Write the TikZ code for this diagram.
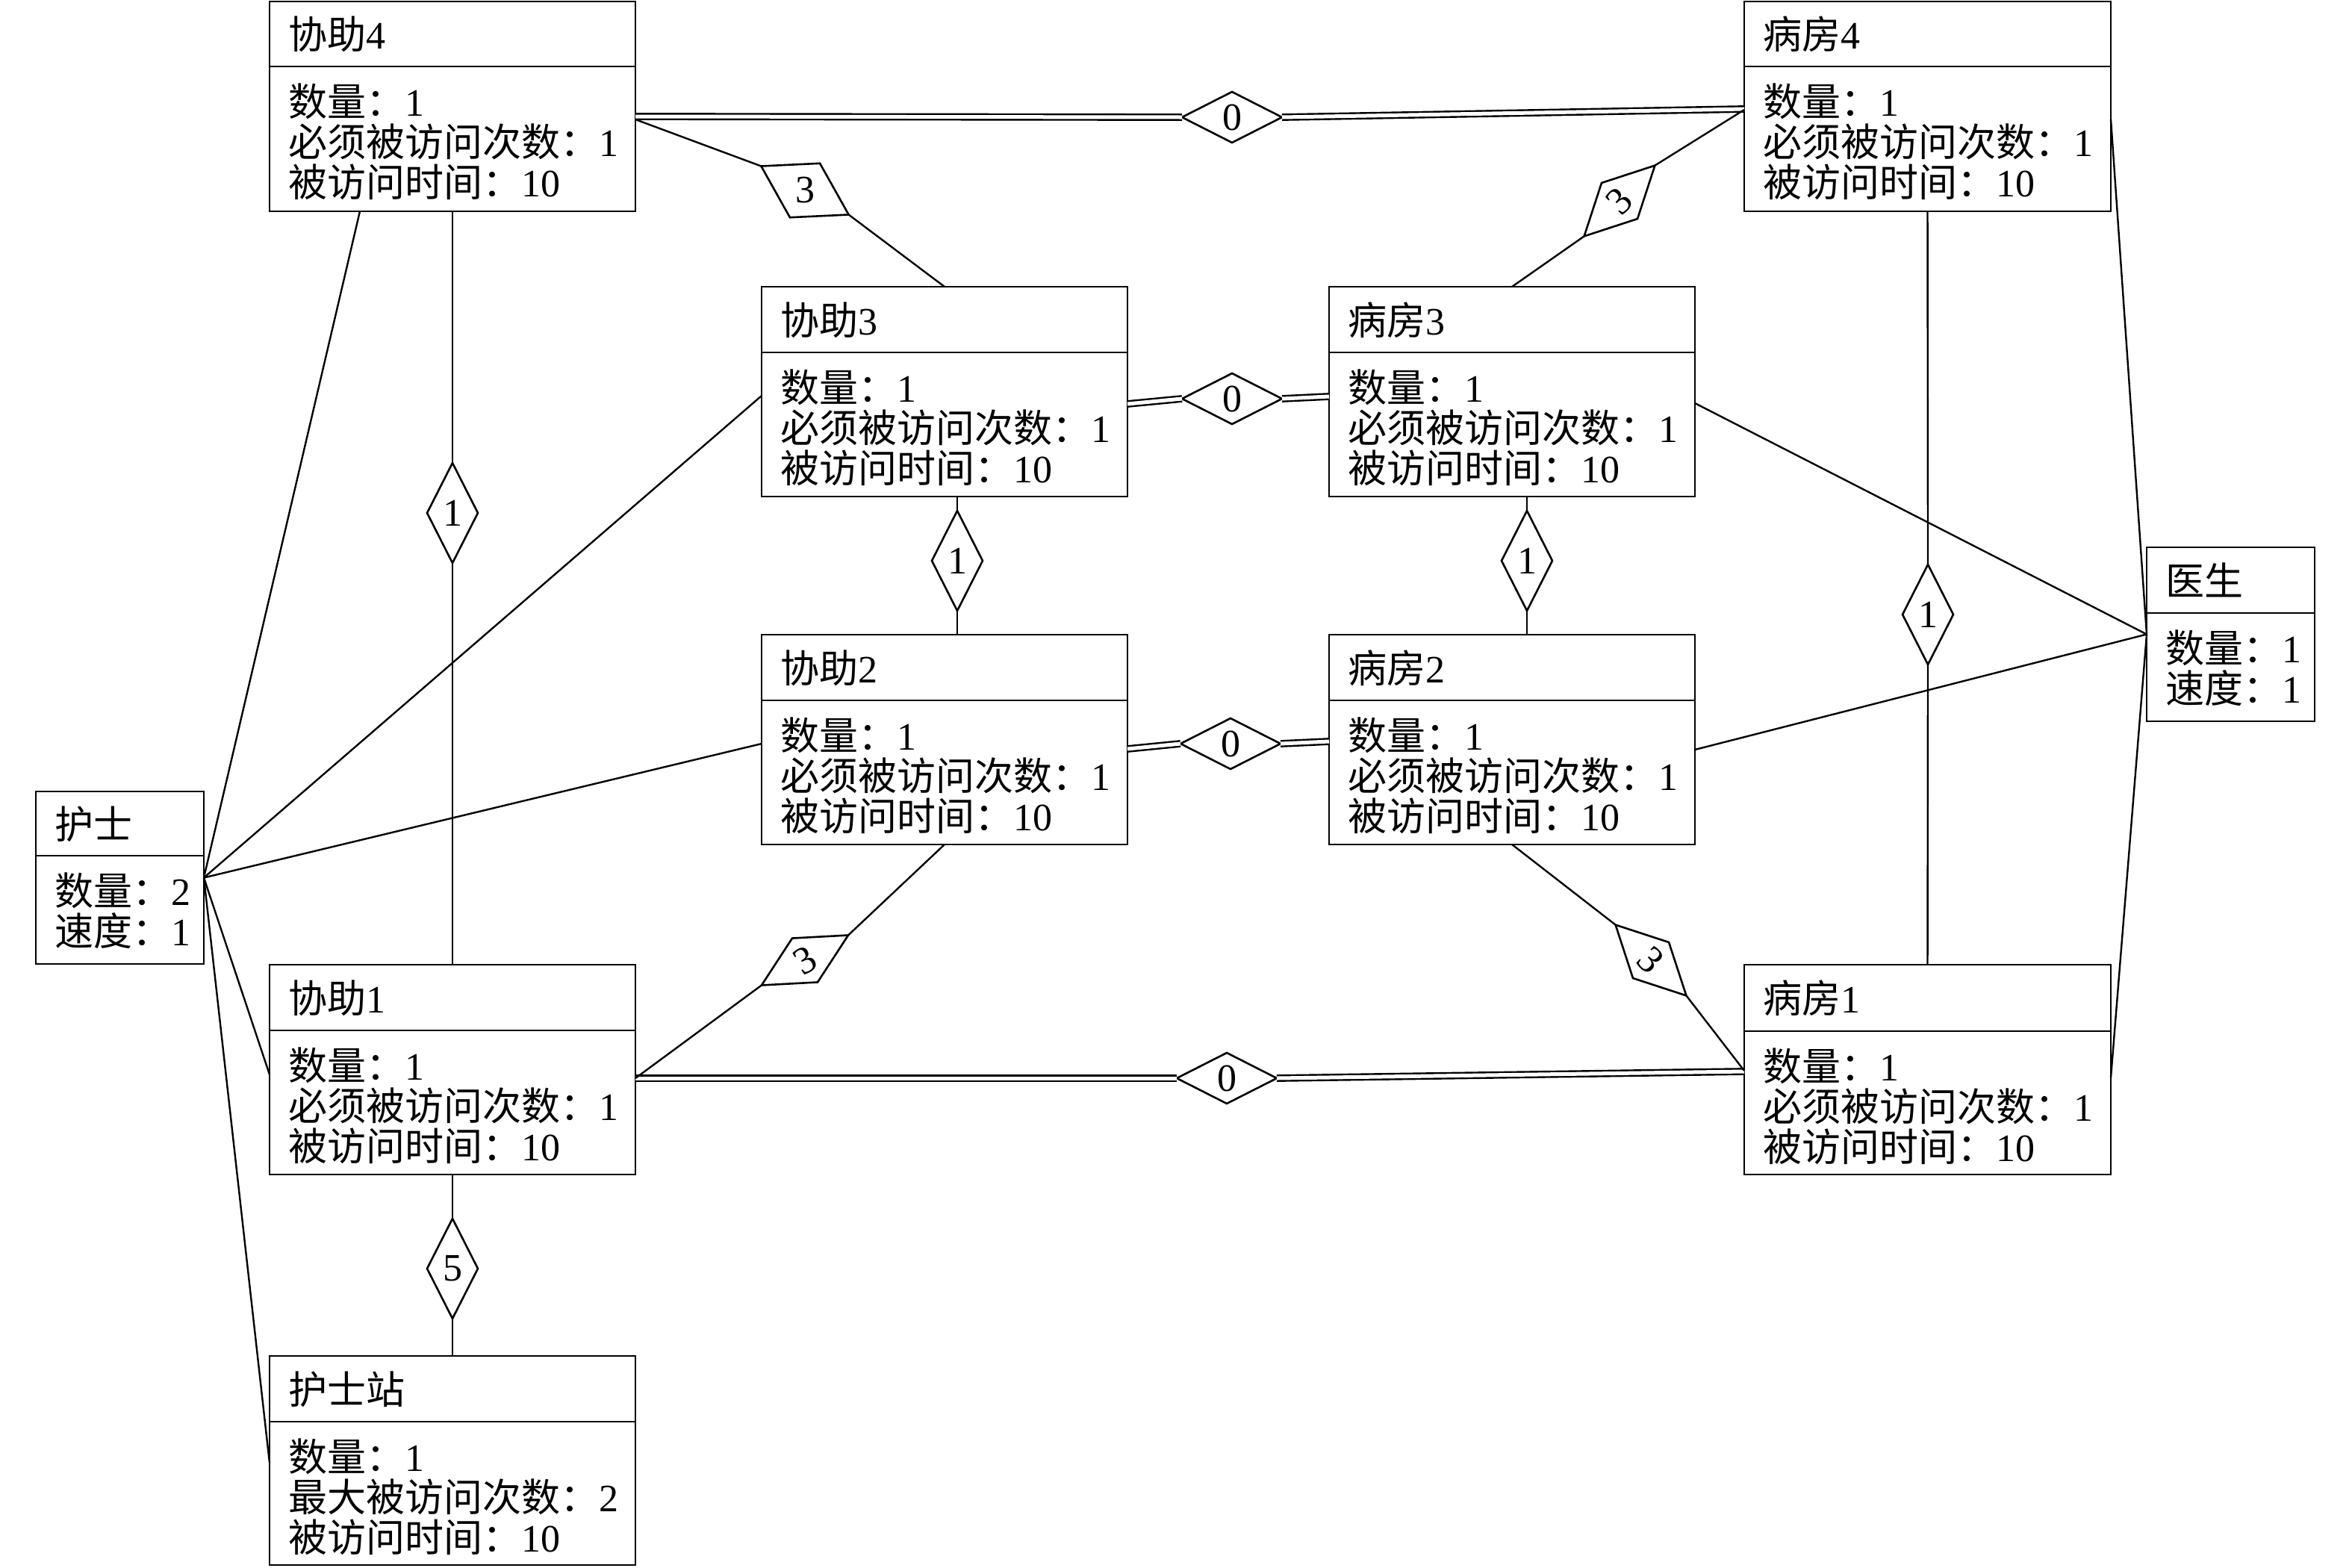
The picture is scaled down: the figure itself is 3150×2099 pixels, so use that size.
\documentclass[tikz,border=0pt]{standalone}
\usepackage{fontspec}
\setmainfont{Liberation Serif}
\newfontfamily\zhfont{Noto Sans CJK SC}
\newcommand\zh[1]{{\zhfont #1}}
\usetikzlibrary{shapes.geometric,calc}
\newcommand\umlbox[8]{%
  \node[umlrect, minimum width=#4pt, minimum height=#5pt] (#1) at (#2,#3) {};
  \draw[boxline] ($(#1.north west)+(0,#6)$) -- ($(#1.north east)+(0,#6)$);
  \node[txt] (#1-t) at ($(#1.north west)+(25,{#6/2+20})$) {#7};
  \foreach \myline [count=\i] in {#8} {%
    \node[txt] (#1-l\i) at ($(#1.north west)+(25,{#6+66+54*(\i-1)})$) {\myline};}%
}
\begin{document}
\begin{tikzpicture}[x=1pt,y=-1pt,
  umlrect/.style={draw, line width=2.6pt, rectangle, anchor=north west, inner sep=0pt, outer sep=0pt},
  boxline/.style={line width=2.6pt},
  txt/.style={anchor=base west, inner sep=0pt, font=\fontsize{52}{54}\selectfont},
  hdia/.style={diamond, draw, line width=2.6pt, minimum width=134pt, minimum height=68pt, inner sep=0pt, outer sep=0pt, font=\fontsize{52}{54}\selectfont},
  vdia/.style={hdia, minimum width=68pt, minimum height=134pt},
  link/.style={line width=2.4pt},
  dbl/.style={double, line width=2.4pt, double distance=5pt}]
\useasboundingbox (0,0) rectangle (3150,2099);

% boxes
\umlbox{x4}{361}{2}{490}{281}{87}{\zh{协助}4}{{\zh{数量：}1},{\zh{必须被访问次数：}1},{\zh{被访问时间：}10}}
\umlbox{w4}{2336}{2}{491}{281}{87}{\zh{病房}4}{{\zh{数量：}1},{\zh{必须被访问次数：}1},{\zh{被访问时间：}10}}
\umlbox{x3}{1020}{384}{490}{281}{88}{\zh{协助}3}{{\zh{数量：}1},{\zh{必须被访问次数：}1},{\zh{被访问时间：}10}}
\umlbox{w3}{1780}{384}{490}{281}{88}{\zh{病房}3}{{\zh{数量：}1},{\zh{必须被访问次数：}1},{\zh{被访问时间：}10}}
\umlbox{x2}{1020}{850}{490}{281}{88}{\zh{协助}2}{{\zh{数量：}1},{\zh{必须被访问次数：}1},{\zh{被访问时间：}10}}
\umlbox{w2}{1780}{850}{490}{281}{88}{\zh{病房}2}{{\zh{数量：}1},{\zh{必须被访问次数：}1},{\zh{被访问时间：}10}}
\umlbox{x1}{361}{1292}{490}{281}{88}{\zh{协助}1}{{\zh{数量：}1},{\zh{必须被访问次数：}1},{\zh{被访问时间：}10}}
\umlbox{w1}{2336}{1292}{491}{281}{89}{\zh{病房}1}{{\zh{数量：}1},{\zh{必须被访问次数：}1},{\zh{被访问时间：}10}}
\umlbox{ns}{361}{1816}{490}{280}{88}{\zh{护士站}}{{\zh{数量：}1},{\zh{最大被访问次数：}2},{\zh{被访问时间：}10}}
\umlbox{nurse}{48}{1060}{225}{231}{86}{\zh{护士}}{{\zh{数量：}2},{\zh{速度：}1}}
\umlbox{doc}{2875}{733}{225}{233}{88}{\zh{医生}}{{\zh{数量：}1},{\zh{速度：}1}}

% diamonds
\node[hdia] (d0a) at (1650,157) {0};
\node[hdia] (d0b) at (1650,534) {0};
\node[hdia] (d0c) at (1648,996) {0};
\node[hdia] (d0d) at (1643,1444) {0};
\node[hdia, rotate=-29] (d3a) at (1078,255) {\rotatebox{29}{3}};
\node[hdia, rotate=45] (d3b) at (2169,269) {3};
\node[hdia, rotate=30] (d3c) at (1078,1286) {3};
\node[hdia, rotate=-45] (d3d) at (2211,1286) {3};
\node[vdia] (d1a) at (606,687) {1};
\node[vdia] (d1b) at (1282,751) {1};
\node[vdia] (d1c) at (2045,751) {1};
\node[vdia] (d1d) at (2582,823) {1};
\node[vdia] (d5) at (606,1699) {5};

% double connectors with "0"
\draw[dbl] ($(x4.north east)+(0,154)$) -- (d0a.west);
\draw[dbl] (d0a.east) -- ($(w4.north west)+(0,144)$);
\draw[dbl] ($(x3.north east)+(0,157)$) -- (d0b.west);
\draw[dbl] (d0b.east) -- ($(w3.north west)+(0,147)$);
\draw[dbl] ($(x2.north east)+(0,153)$) -- (d0c.west);
\draw[dbl] (d0c.east) -- ($(w2.north west)+(0,143)$);
\draw[dbl] ($(x1.north east)+(0,152)$) -- (d0d.west);
\draw[dbl] (d0d.east) -- ($(w1.north west)+(0,143)$);

% "3" connectors
\draw[link] ($(x4.north east)+(0,158)$) -- (d3a.west);
\draw[link] (d3a.east) -- (x3.north);
\draw[link] ($(w4.north west)+(0,145)$) -- (d3b.east);
\draw[link] (d3b.west) -- (w3.north);
\draw[link] ($(x1.north east)+(0,152)$) -- (d3c.west);
\draw[link] (d3c.east) -- (x2.south);
\draw[link] ($(w1.north west)+(0,142)$) -- (d3d.east);
\draw[link] (d3d.west) -- (w2.south);

% vertical connectors
\draw[link] (x4.south) -- (d1a.north);
\draw[link] (d1a.south) -- (x1.north);
\draw[link] ($(x3.south)+(17,0)$) -- (d1b.north);
\draw[link] (d1b.south) -- ($(x2.north)+(17,0)$);
\draw[link] ($(w3.south)+(20,0)$) -- (d1c.north);
\draw[link] (d1c.south) -- ($(w2.north)+(20,0)$);
\draw[link] (w4.south) -- (d1d.north);
\draw[link] (d1d.south) -- (w1.north);
\draw[link] (x1.south) -- (d5.north);
\draw[link] (d5.south) -- (ns.north);

% nurse connectors
\draw[link] (nurse.east) -- ($(x4.south west)+(121,0)$);
\draw[link] (nurse.east) -- ($(x3.north west)+(0,146)$);
\draw[link] (nurse.east) -- ($(x2.north west)+(0,146)$);
\draw[link] (nurse.east) -- ($(x1.north west)+(0,147)$);
\draw[link] (nurse.east) -- ($(ns.north west)+(0,143)$);

% doctor connectors
\draw[link] (doc.west) -- ($(w4.north east)+(0,158)$);
\draw[link] (doc.west) -- ($(w3.north east)+(0,156)$);
\draw[link] (doc.west) -- ($(w2.north east)+(0,154)$);
\draw[link] (doc.west) -- ($(w1.north east)+(0,151)$);
\end{tikzpicture}
\end{document}
